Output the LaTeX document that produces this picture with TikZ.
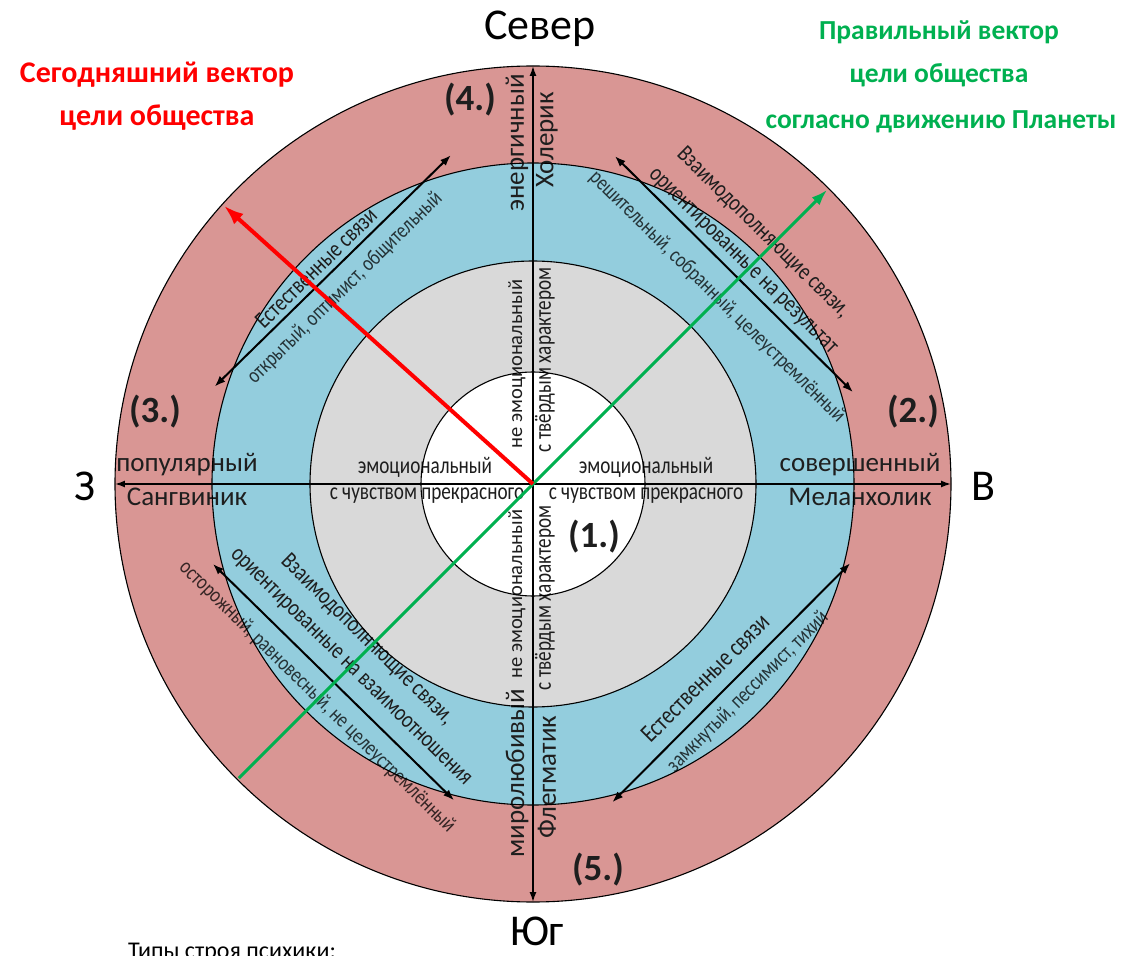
\documentclass[tikz,border=0pt]{standalone}
\usepackage{fontspec}
\setmainfont{Carlito}
\newfontfamily\narrowfont[FakeStretch=0.8]{Carlito}
\usetikzlibrary{arrows.meta}
\definecolor{ringpink}{HTML}{D99694}
\definecolor{ringblue}{HTML}{93CDDD}
\definecolor{ringgray}{HTML}{D9D9D9}
\definecolor{vecgreen}{HTML}{00B050}
\definecolor{vecred}{HTML}{FF0000}
\definecolor{txt}{HTML}{1E1E1E}
\tikzset{
    himmel/.style={font=\fontsize{44}{50}\selectfont, text=black},
    vektortitel/.style={font=\bfseries\fontsize{30}{36}\selectfont, inner sep=0pt},
    typ/.style={font=\fontsize{27}{30}\selectfont, text=txt, inner sep=0pt},
    nummer/.style={font=\bfseries\fontsize{37}{40}\selectfont, text=txt, inner sep=0pt},
    innen/.style={font=\narrowfont\fontsize{24}{26}\selectfont, text=txt, inner sep=0pt},
    sehnentext/.style={font=\narrowfont\fontsize{24}{26}\selectfont, text=txt, inner sep=0pt},
    merkmal/.style={font=\narrowfont\fontsize{22}{24}\selectfont, text=black, text opacity=0.75, inner sep=0pt},
    ring/.style={draw=black, line width=1.1pt},
    achse/.style={line width=1.5pt, {Latex[length=10pt,width=7pt]}-{Latex[length=10pt,width=7pt]}},
    sehne/.style={line width=2pt, {Latex[length=11pt,width=8pt]}-{Latex[length=11pt,width=8pt]}},
}
\begin{document}
\begin{tikzpicture}[x=1pt, y=1pt]
    \useasboundingbox (-533,-471) rectangle (590,484);
    \coordinate (M) at (0,0);
    % Ringe
    \fill[ringpink] (M) circle (418);
    \fill[ringblue] (M) circle (321);
    \fill[ringgray] (M) circle (223);
    \fill[white]    (M) circle (112);
    % Himmelsrichtungen
    \node[himmel] (nord) at (7,455)   {Север};
    \node[himmel] (sued) at (4,-447)  {Юг};
    \node[himmel] (west) at (-448,-2) {З};
    \node[himmel] (ost)  at (450,-2)  {В};
    % Vektoren (Titel)
    \node[vektortitel, text=vecred] (rot1) at (-376,409) {Сегодняшний вектор};
    \node[vektortitel, text=vecred] (rot2) at (-376,366) {цели общества};
    \node[vektortitel, text=vecgreen, font=\bfseries\fontsize{27.5}{32}\selectfont] (gruen1) at (406,452) {Правильный вектор};
    \node[vektortitel, text=vecgreen, font=\bfseries\fontsize{27.5}{32}\selectfont] (gruen2) at (406,409) {цели общества};
    \node[vektortitel, text=vecgreen, font=\bfseries\fontsize{27.5}{32}\selectfont] (gruen3) at (408,362) {согласно движению Планеты};
    % Typen
    \node[typ] (popu) at (-346,19)  {популярный};
    \node[typ] (sang) at (-346,-13) {Сангвиник};
    \node[typ] (sove) at (327,19)   {совершенный};
    \node[typ] (mela) at (327,-13)  {Меланхолик};
    \node[typ, rotate=90] (ener) at (-16,341)  {энергичный};
    \node[typ, rotate=90] (chol) at (14,344)   {Холерик};
    \node[typ, rotate=90] (miro) at (-16,-289) {миролюбивый};
    \node[typ, rotate=90] (fleg) at (14,-293)  {Флегматик};
    % innere Beschriftung
    \node[innen, rotate=90, font=\fontsize{20.5}{24}\selectfont] (neo) at (-16,120)  {не эмоциональный};
    \node[innen, rotate=90] (tvo)  at (12,124)   {с твёрдым характером};
    \node[innen, rotate=90, font=\fontsize{20.5}{24}\selectfont] (neu) at (-16,-110) {не эмоциональный};
    \node[innen, rotate=90] (tvu)  at (12,-114)  {с твёрдым характером};
    \node[innen] (emol) at (-108,17)  {эмоциональный};
    \node[innen] (chul) at (-106,-12) {с чувством прекрасного};
    \node[innen] (emor) at (113,17)   {эмоциональный};
    \node[innen] (chur) at (113,-12)  {с чувством прекрасного};
    % Nummern
    \node[nummer] (n1) at (61,-53)   {(1.)};
    \node[nummer] (n2) at (380,72)   {(2.)};
    \node[nummer] (n3) at (-378,72)  {(3.)};
    \node[nummer] (n4) at (-63,384)  {(4.)};
    \node[nummer] (n5) at (65,-386)  {(5.)};
    % Sehnen-Texte
    \node[sehnentext, rotate=44.5] (tl1) at (-217,216) {Естественные связи};
    \node[merkmal, rotate=44.5]    (tl2) at (-188,196) {открытый, оптимист, общительный};
    \node[sehnentext, rotate=-44.5] (tr1) at (230,251) {Взаимодополняющие связи,};
    \node[sehnentext, rotate=-44.5] (tr2) at (209,222) {ориентированные на результат};
    \node[merkmal, rotate=-44.5]    (tr3) at (184,187) {решительный, собранный, целеустремлённый};
    \node[sehnentext, rotate=-44.5] (bl1) at (-166,-156) {Взаимодополняющие связи,};
    \node[sehnentext, rotate=-44.5] (bl2) at (-183,-184) {ориентированные на взаимоотношения};
    \node[merkmal, rotate=-44.5]    (bl3) at (-216,-213) {осторожный, равновесный, не целеустремлённый};
    \node[sehnentext, rotate=45, font=\narrowfont\fontsize{25.5}{28}\selectfont] (br1) at (172,-194) {Естественные связи};
    \node[merkmal, rotate=45]    (br2) at (215,-208) {замкнутый, пессимист, тихий};
    \node[anchor=north, font=\fontsize{24}{28}\selectfont, inner sep=0pt] (typen) at (-301,-459) {Типы строя психики:};
    % Ringlinien
    \foreach \r in {418, 321, 223, 112}
    {
        \draw[ring] (M) circle (\r);
    }
    % Achsen
    \coordinate (W) at (-418,0);
    \coordinate (O) at (418,0);
    \coordinate (S) at (0,-418);
    \coordinate (N) at (0,418);
    \draw[achse] (W) -- (O);
    \draw[achse] (S) -- (N);
    % Sehnen
    \coordinate (a1) at (163:333);
    \coordinate (a2) at (104:339);
    \coordinate (b1) at (76:338);
    \coordinate (b2) at (16:333);
    \coordinate (c1) at (194:330);
    \coordinate (c2) at (256:326);
    \coordinate (d1) at (284:328);
    \coordinate (d2) at (346:327);
    \draw[sehne] (a1) -- (a2);
    \draw[sehne] (b1) -- (b2);
    \draw[sehne] (c1) -- (c2);
    \draw[sehne] (d1) -- (d2);
    % Vektoren
    \coordinate (R) at (138:416);
    \coordinate (G1) at (225:416);
    \coordinate (G2) at (45:416);
    \draw[vecgreen, line width=3pt, -{Latex[length=16pt,width=11pt]}] (G1) -- (G2);
    \draw[vecred, line width=4pt, -{Latex[length=20pt,width=14pt]}] (M) -- (R);
\end{tikzpicture}
\end{document}
